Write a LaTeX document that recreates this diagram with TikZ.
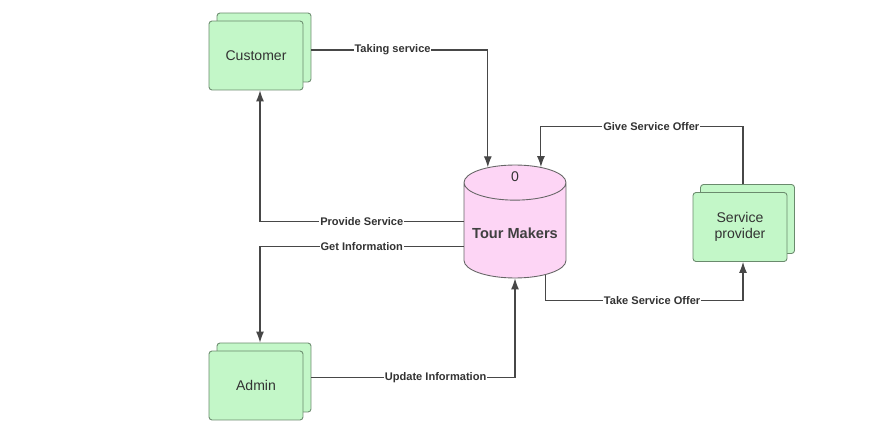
\documentclass[tikz,border=0pt]{standalone}
\usepackage{fontspec}
\setmainfont{Liberation Sans}
\usetikzlibrary{shapes.geometric,arrows.meta}
\definecolor{boxgreen}{HTML}{C3F7C8}
\definecolor{boxline}{HTML}{6A8A6D}
\definecolor{storepink}{HTML}{FDD5F5}
\definecolor{flowgray}{HTML}{474747}
\begin{document}
\begin{tikzpicture}
        [x=0.02cm, y=-0.02cm,
        entity/.style={rectangle, draw=boxline, fill=boxgreen, rounded corners=0.06cm,
            minimum width=1.88cm, minimum height=1.38cm, line width=0.5pt,
            text=black!80, font=\fontsize{8}{9.5}\selectfont, align=center},
        store/.style={cylinder, shape border rotate=90, aspect=3, draw=black!60,
            fill=storepink, minimum width=2.04cm, minimum height=2.26cm, line width=0.5pt},
        storetext/.style={text=black!75, font=\fontsize{8.3}{10}\selectfont\bfseries},
        flow/.style={draw=flowgray, line width=0.6pt, -{Latex[length=2.2mm, width=1.6mm]}},
        flowlabel/.style={fill=white, inner sep=0.5pt, text=black!80,
            font=\fontsize{6.3}{7}\selectfont\bfseries}]

        \useasboundingbox (0,0) rectangle (889,442);

        % external entities (stacked boxes)
        \node[entity] (customer-b) at (264,47.5) {};
        \node[entity] (customer) at (256,55.5) {Customer};
        \node[entity] (admin-b) at (264,377.5) {};
        \node[entity] (admin) at (256,385.5) {Admin};
        \node[entity] (provider-b) at (747.5,219) {};
        \node[entity] (provider) at (740,227) {Service\\provider};

        % data store
        \node[store, anchor=shape center] (tm) at (515,221.5) {};
        \node[storetext] (tm-name) at (515,233) {Tour Makers};
        \node[text=black!80, font=\fontsize{8}{9.5}\selectfont] (tm-id) at (515,177) {0};

        % data flows
        \draw[flow] ([yshift=-0.05cm]customer-b.east) -| node[flowlabel, pos=0.23] {Taking service} (tm.112.4);
        \draw[flow] (tm.166) -| node[flowlabel, pos=0.25] {Provide Service} ([xshift=0.08cm]customer.south);
        \draw[flow] (tm.193) -| node[flowlabel, pos=0.25] {Get Information} ([xshift=-0.08cm]admin-b.north);
        \draw[flow] (admin-b.east) -| node[flowlabel, pos=0.305] {Update Information} (tm.south);
        \draw[flow] ([xshift=-0.09cm]provider-b.north) -- ++(0,-58) -| node[flowlabel, pos=0.227] {Give Service Offer} (tm.69.8);
        \draw[flow] (tm.307) -- ++(0,26) -| node[flowlabel, pos=0.27] {Take Service Offer} ([xshift=0.06cm]provider.south);

    \end{tikzpicture}
\end{document}
